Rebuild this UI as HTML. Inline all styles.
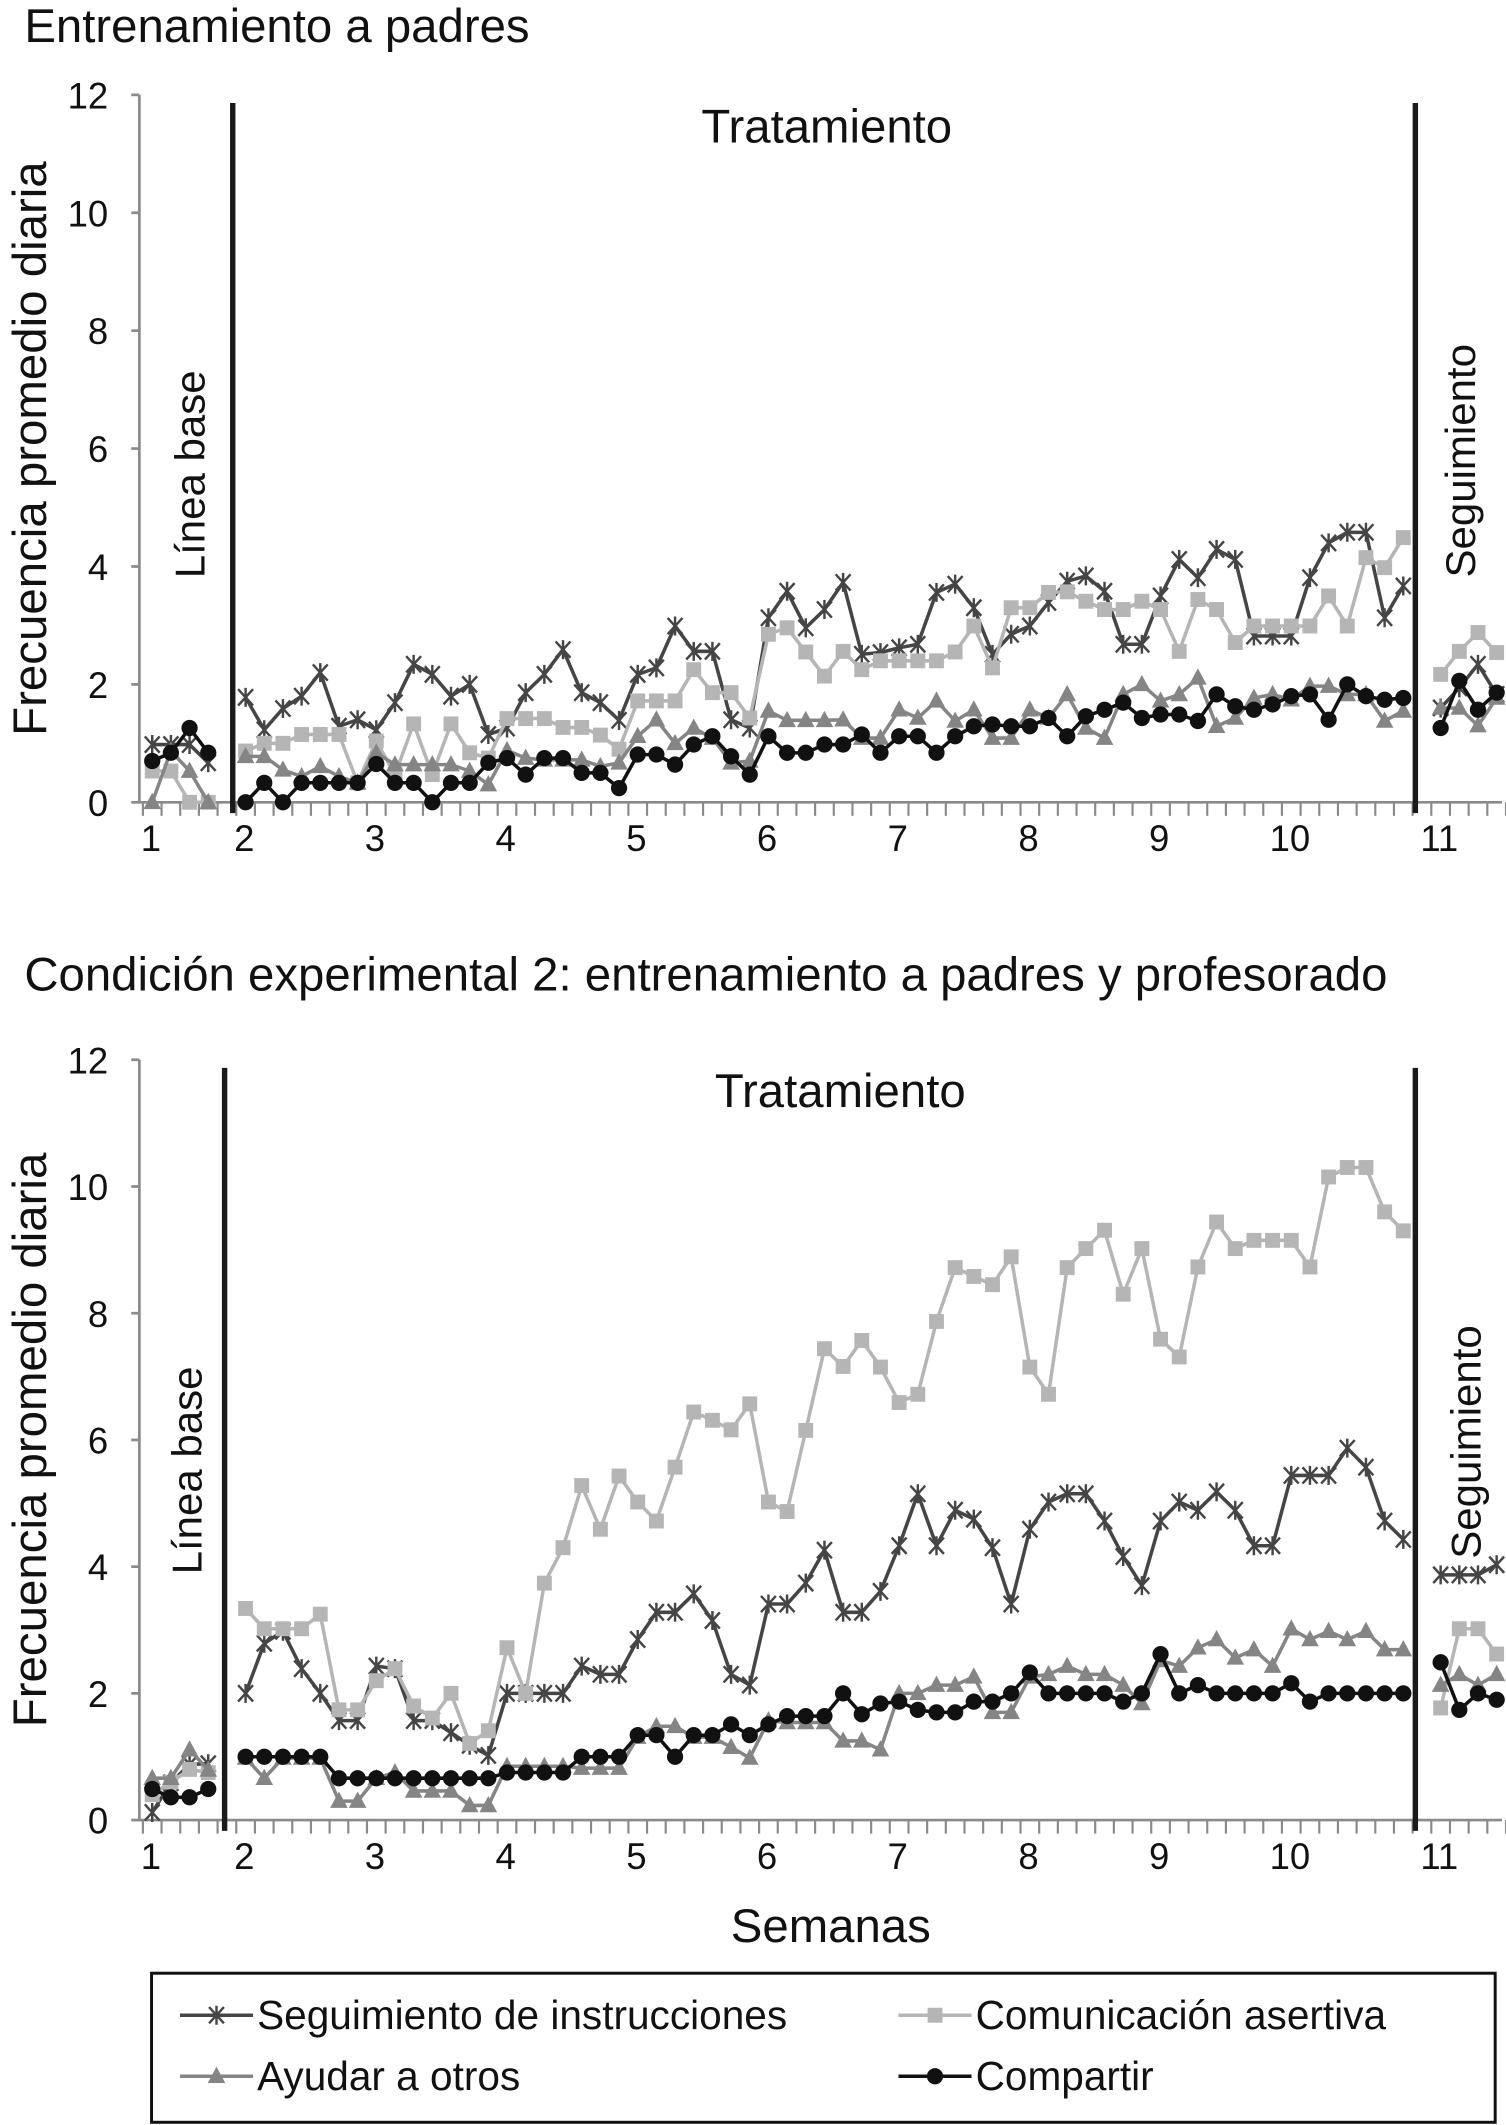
<!DOCTYPE html>
<html><head><meta charset="utf-8">
<style>
html,body{margin:0;padding:0;background:#fff;}
svg{display:block;}
text{font-family:"Liberation Sans",Arial,sans-serif;fill:#111;}
</style></head>
<body>
<svg id="fig" width="1506" height="2125" viewBox="0 0 1113 1568" preserveAspectRatio="none" xmlns="http://www.w3.org/2000/svg">
<g id="top"></g>
<g id="bot"></g>
<g id="legend">
  <rect x="112" y="1456" width="993" height="110" fill="none" stroke="#111" stroke-width="2.2"/>
</g>
</svg>
<script>
// ---- data: index 0-3 baseline, 4-66 treatment (63), 67-70 follow-up ----
const weekLabels = ["1","2","3","4","5","6","7","8","9","10","11"];
const yTicks = [0,2,4,6,8,10,12];
const seriesNames = ["Seguimiento de instrucciones","Comunicación asertiva","Ayudar a otros","Compartir"];

const topInstr = [0.98,0.98,0.98,0.67,
 1.78,1.23,1.59,1.8,2.2,1.29,1.4,1.23,1.69,2.34,2.17,1.8,2.0,1.15,1.26,1.86,2.17,2.59,1.86,1.69,1.39,2.17,2.28,2.99,2.56,2.56,1.4,1.26,3.13,3.58,2.96,3.27,
 3.73,2.51,2.54,2.62,2.68,3.56,3.7,3.3,2.51,2.85,2.99,3.39,3.75,3.84,3.58,2.68,2.68,3.5,4.12,3.81,4.29,4.12,2.82,2.82,2.82,3.81,4.4,4.58,4.58,3.13,3.67,
 1.6,1.94,2.34,1.83];
const topAssert = [0.53,0.53,0,0,
 0.87,1.0,1.0,1.15,1.15,1.15,0.33,1.04,0.47,1.33,0.47,1.33,0.84,0.75,1.42,1.42,1.42,1.27,1.27,1.14,0.9,1.72,1.72,1.72,2.25,1.86,1.86,1.43,2.85,2.96,2.55,2.14,
 2.56,2.25,2.4,2.4,2.4,2.4,2.55,2.99,2.28,3.3,3.3,3.56,3.57,3.41,3.27,3.27,3.41,3.27,2.56,3.44,3.27,2.71,2.99,2.99,2.99,2.99,3.5,2.99,4.15,3.98,4.49,
 2.17,2.56,2.88,2.54];
const topHelp = [0,0.87,0.53,0,
 0.78,0.78,0.55,0.44,0.61,0.44,0.33,0.84,0.64,0.64,0.64,0.64,0.53,0.3,0.88,0.75,0.72,0.72,0.72,0.61,0.67,1.12,1.4,1.0,1.26,1.09,0.67,0.7,1.55,1.39,1.39,1.39,
 1.4,1.09,1.09,1.57,1.43,1.72,1.38,1.57,1.09,1.09,1.57,1.43,1.83,1.26,1.09,1.83,2.0,1.72,1.83,2.11,1.29,1.43,1.77,1.83,1.74,1.97,1.97,1.83,1.83,1.38,1.55,
 1.6,1.6,1.3,1.77];
const topShare = [0.7,0.84,1.26,0.84,
 0,0.33,0,0.33,0.33,0.33,0.33,0.65,0.33,0.33,0,0.33,0.33,0.67,0.75,0.47,0.75,0.75,0.5,0.5,0.24,0.81,0.81,0.64,0.98,1.12,0.78,0.47,1.12,0.84,0.84,0.98,
 0.98,1.15,0.84,1.12,1.12,0.84,1.12,1.29,1.32,1.29,1.29,1.43,1.12,1.46,1.57,1.69,1.43,1.49,1.49,1.38,1.83,1.63,1.57,1.66,1.8,1.83,1.4,2.0,1.8,1.74,1.77,
 1.26,2.06,1.57,1.86];

const botInstr = [0.12,0.59,0.88,0.89,
 2.0,2.79,2.98,2.39,2.0,1.57,1.57,2.43,2.39,1.57,1.57,1.38,1.18,1.02,2.0,2.0,2.0,2.0,2.43,2.3,2.3,2.85,3.28,3.28,3.57,3.15,2.3,2.13,3.41,3.41,3.74,4.26,
 3.28,3.28,3.61,4.33,5.15,4.33,4.89,4.75,4.3,3.41,4.59,5.02,5.15,5.15,4.72,4.16,3.7,4.72,5.02,4.89,5.18,4.89,4.33,4.33,5.44,5.44,5.44,5.87,5.57,4.72,4.43,
 3.87,3.87,3.87,4.03];
const botAssert = [0.4,0.6,0.8,0.75,
 3.34,3.02,3.02,3.02,3.25,1.74,1.74,2.2,2.39,1.8,1.61,2.0,1.21,1.41,2.72,2.0,3.74,4.3,5.28,4.59,5.43,5.02,4.72,5.57,6.44,6.31,6.16,6.57,5.02,4.87,6.15,7.44,
 7.16,7.57,7.15,6.59,6.72,7.87,8.72,8.58,8.45,8.89,7.15,6.72,8.72,9.02,9.31,8.3,9.02,7.59,7.31,8.73,9.44,9.02,9.15,9.15,9.15,8.73,10.15,10.3,10.3,9.6,9.3,
 1.77,3.02,3.02,2.62];
const botHelp = [0.66,0.66,1.11,0.79,
 0.98,0.66,0.98,0.98,0.98,0.3,0.3,0.66,0.75,0.46,0.46,0.46,0.23,0.23,0.85,0.85,0.85,0.85,0.82,0.82,0.82,1.31,1.48,1.48,1.31,1.31,1.15,0.98,1.57,1.54,1.54,1.54,
 1.25,1.25,1.11,2.0,2.0,2.13,2.13,2.26,1.7,1.7,2.26,2.3,2.43,2.3,2.3,2.13,1.84,2.52,2.43,2.72,2.85,2.56,2.69,2.43,3.02,2.85,2.98,2.85,2.98,2.69,2.69,
 2.13,2.3,2.13,2.3];
const botShare = [0.49,0.36,0.36,0.49,
 1,1,1,1,1,0.66,0.66,0.66,0.66,0.66,0.66,0.66,0.66,0.66,0.75,0.75,0.75,0.75,1,1,1,1.34,1.34,1.0,1.34,1.34,1.51,1.34,1.51,1.64,1.64,1.64,
 2.0,1.67,1.84,1.87,1.74,1.7,1.7,1.87,1.87,2.0,2.33,2.0,2.0,2.0,2.0,1.87,2.0,2.62,2.0,2.13,2.0,2.0,2.0,2.0,2.16,1.87,2.0,2.0,2.0,2.0,2.0,
 2.49,1.74,2.0,1.9];

const NS = "http://www.w3.org/2000/svg";
function mk(parent, tag, attrs, txt){
  const e = document.createElementNS(NS, tag);
  for (const k in attrs) e.setAttribute(k, attrs[k]);
  if (txt !== undefined) e.textContent = txt;
  parent.appendChild(e);
  return e;
}
function slot(j){ return j < 4 ? j : (j < 67 ? j + 1 : j + 2); }
function xPos(s){ return 112.5 + 13.8 * s; }

const styles = [
  {color:"#454545", marker:"star"},
  {color:"#b5b5b5", marker:"square"},
  {color:"#858585", marker:"tri"},
  {color:"#111111", marker:"circle"}
];

function marker(g, type, x, y, color){
  let m;
  if (type === "star"){
    m = mk(g, "path", {d:`M${x-5.5} ${y-6}L${x+5.5} ${y+6}M${x+5.5} ${y-6}L${x-5.5} ${y+6}M${x} ${y-7}L${x} ${y+7}`, stroke:color, "stroke-width":1.8, fill:"none"});
  } else if (type === "square"){
    m = mk(g, "rect", {x:x-5.5, y:y-5.5, width:11, height:11, fill:color});
  } else if (type === "tri"){
    m = mk(g, "path", {d:`M${x} ${y-7}L${x+6.5} ${y+5}L${x-6.5} ${y+5}Z`, fill:color});
  } else {
    m = mk(g, "circle", {cx:x, cy:y, r:6, fill:color});
  }
  return m;
}

function drawChart(gid, cfg){
  const g = document.getElementById(gid);
  const yS = v => cfg.y0 - (cfg.y0 - cfg.y12) * v / 12;
  const t = mk(g, "text", {x:18, y:cfg.titleY, "font-size":35}, cfg.title);
  
  
  const yl = mk(g, "text", {x:0, y:0, "font-size":35, "text-anchor":"middle", transform:`translate(34 ${(cfg.y0+cfg.y12)/2}) rotate(-90)`}, "Frecuencia promedio diaria");
  
  
  const ax = mk(g, "path", {d:`M103 ${cfg.y12}L103 ${cfg.y0}L1110 ${cfg.y0}`, stroke:"#8a8a8a", "stroke-width":2, fill:"none"});
  
  
  yTicks.forEach(v => {
    const tk = mk(g, "line", {x1:97, x2:103, y1:yS(v), y2:yS(v), stroke:"#8a8a8a", "stroke-width":2});
    
    
    const tl = mk(g, "text", {x:80, y:yS(v)+10, "font-size":27, "text-anchor":"end"}, String(v));
    
    
  });
  for (let s = 0; s <= 73; s++){
    const xb = xPos(s) - 6.9;
    const mt = mk(g, "line", {x1:xb, x2:xb, y1:cfg.y0, y2:cfg.y0+10, stroke:"#8a8a8a", "stroke-width":1.6});
    
    
  }
  weekLabels.forEach((w, i) => {
    const s = i === 0 ? 0 : (i === 10 ? 69 : 5 + 7 * (i - 1));
    const wl = mk(g, "text", {x:xPos(s) - 1, y:cfg.y0 + 36, "font-size":27, "text-anchor":"middle"}, w);
    
    
  });
  [cfg.line1, 1046].forEach(x => {
    const pl = mk(g, "line", {x1:x, x2:x, y1:cfg.y12 + 6, y2:cfg.y0 + 8, stroke:"#1a1a1a", "stroke-width":4});
    
    
  });
  const tr = mk(g, "text", {x:cfg.tratX, y:cfg.y12 + 35, "font-size":35, "text-anchor":"middle"}, "Tratamiento");
  
  
  const lb = mk(g, "text", {x:0, y:0, "font-size":31, "text-anchor":"middle", transform:`translate(${cfg.lbX} ${cfg.lbY}) rotate(-90)`}, "Línea base");
  
  
  const sg = mk(g, "text", {x:0, y:0, "font-size":31, "text-anchor":"middle", transform:`translate(${cfg.sgX} ${cfg.sgY}) rotate(-90)`}, "Seguimiento");
  
  

  cfg.series.forEach((vals, si) => {
    const st = styles[si];
    const sg2 = mk(g, "g", {});
    
    
    [[0,4],[4,67],[67,71]].forEach(([a,b]) => {
      const pts = [];
      for (let j = a; j < b; j++) pts.push(xPos(slot(j)).toFixed(1) + "," + yS(vals[j]).toFixed(1));
      const pl = mk(sg2, "polyline", {points:pts.join(" "), fill:"none", stroke:st.color, "stroke-width":2.6, "stroke-linejoin":"round"});
      
      
    });
    vals.forEach((v, j) => {
      const m = marker(sg2, st.marker, xPos(slot(j)), yS(v), st.color);
      
      
    });
  });
}

drawChart("top", {title:"Entrenamiento a padres", titleY:31, y0:592, y12:70, line1:172,
  tratX:611, lbX:151, lbY:350, sgX:1090, sgY:340,
  series:[topInstr, topAssert, topHelp, topShare]});
drawChart("bot", {title:"Condición experimental 2: entrenamiento a padres y profesorado", titleY:731, y0:1343, y12:782, line1:166,
  tratX:621, lbX:149, lbY:1085, sgX:1094, sgY:1064,
  series:[botInstr, botAssert, botHelp, botShare]});

const fig = document.getElementById("fig");
const xt = mk(fig, "text", {x:614, y:1433, "font-size":35, "text-anchor":"middle"}, "Semanas");



const lg = document.getElementById("legend");
const legPos = [[133,1487],[664,1487],[133,1532],[664,1532]];
seriesNames.forEach((n, i) => {
  const [x, y] = legPos[i];
  const e = mk(lg, "g", {});
  
  
  mk(e, "line", {x1:x, x2:x+54, y1:y, y2:y, stroke:styles[i].color, "stroke-width":2.6});
  marker(e, styles[i].marker, x + 27, y, styles[i].color);
  mk(e, "text", {x:x + 57, y:y + 10, "font-size":30}, n);
});
</script>
</body></html>
